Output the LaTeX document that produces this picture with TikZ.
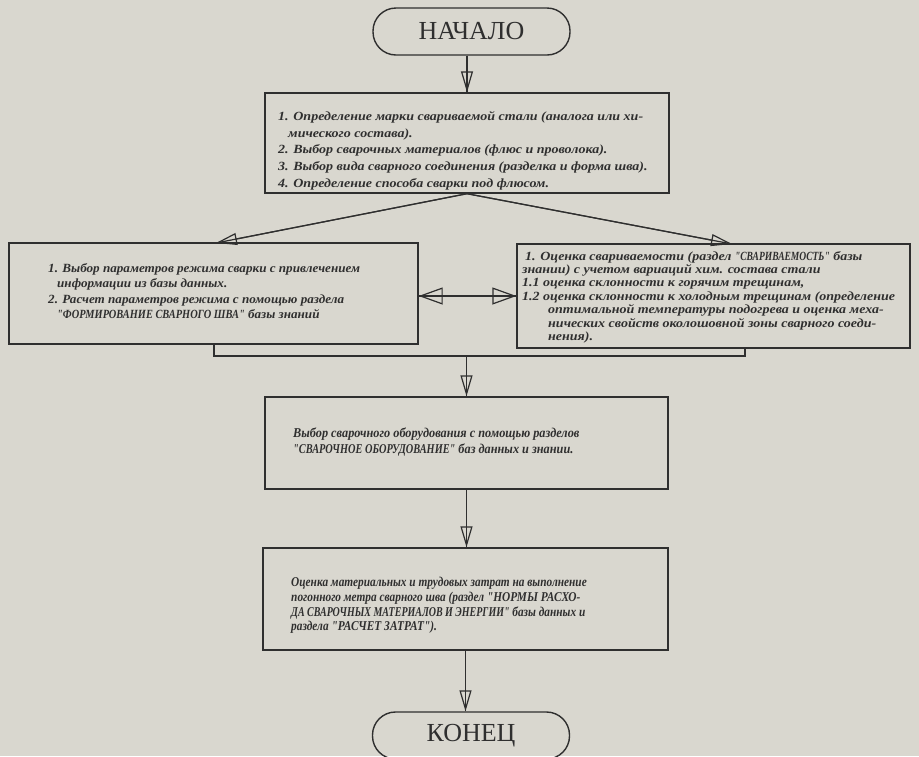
\documentclass[tikz,border=0pt]{standalone}
\usepackage{graphicx}
\usepackage{fontspec}
\setmainfont{Liberation Serif}
\newfontfamily\fA[FakeStretch=1.12]{Liberation Serif}
\newfontfamily\fL[FakeStretch=1.05]{Liberation Serif}
\newfontfamily\fR[FakeStretch=1.12]{Liberation Serif}
\newfontfamily\fC[FakeStretch=0.91]{Liberation Serif}
\newfontfamily\fD[FakeStretch=0.84]{Liberation Serif}
\newcommand\condcaps[2]{\scalebox{#1}[1]{#2}}
\usetikzlibrary{arrows.meta}
\definecolor{paper}{HTML}{D9D7CF}
\definecolor{ink}{HTML}{2F2F2F}
\begin{document}
\begin{tikzpicture}[x=1pt,y=-1pt,
  box/.style={draw=ink, line width=1.4pt, rectangle, inner sep=0pt},
  term/.style={draw=ink, line width=1.4pt, rectangle, rounded corners=23pt,
     minimum width=197pt, minimum height=47pt, inner sep=0pt,
     font=\fontsize{26}{26}\selectfont, text=ink},
  txt/.style={anchor=north west, align=left, inner sep=0pt, text=ink},
  link/.style={draw=ink, line width=1.2pt},
  vtip/.style={link, -{Triangle[open, length=21pt, width=12pt, line width=1.2pt]}},
  htip/.style={link, {Triangle[open, length=24pt, width=17pt, line width=1.2pt]}-{Triangle[open, length=24pt, width=17pt, line width=1.2pt]}}
]
\useasboundingbox[fill=paper] (0,0) rectangle (919,756);

% nodes
\node[term] (start) at (471.5,31.5) {НАЧАЛО};
\node[box, minimum width=404pt, minimum height=100pt] (b1) at (467,143) {};
\node[box, minimum width=409pt, minimum height=101pt] (bl) at (213.5,293.5) {};
\node[box, minimum width=393pt, minimum height=104pt] (br) at (713.5,296) {};
\node[box, minimum width=403pt, minimum height=92pt] (b3) at (466.5,443) {};
\node[box, minimum width=405pt, minimum height=102pt] (b4) at (465.5,599) {};
\node[term] (end) at (471,735.5) {КОНЕЦ};

% texts
\node[txt, font=\fA\fontsize{12.5}{16.8}\selectfont\itshape\bfseries] (t1) at (278,111) {1. Определение марки свариваемой стали (аналога или хи-\\
\hspace*{10pt}мического состава).\\
2. Выбор сварочных материалов (флюс и проволока).\\
3. Выбор вида сварного соединения (разделка и форма шва).\\
4. Определение способа сварки под флюсом.};

\node[txt, font=\fL\fontsize{12.5}{15.5}\selectfont\itshape\bfseries] (tl) at (48,263) {1. Выбор параметров режима сварки с привлечением\\
\hspace*{9pt}информации из базы данных.\\
2. Расчет параметров режима с помощью раздела\\
\hspace*{9pt}\condcaps{0.79}{"ФОРМИРОВАНИЕ СВАРНОГО ШВА"} базы знаний};

\node[txt, font=\fR\fontsize{12.5}{13.4}\selectfont\itshape\bfseries] (tr) at (522,251) {\hspace*{3pt}1. Оценка свариваемости (раздел \condcaps{0.68}{"СВАРИВАЕМОСТЬ"} базы\\
знании) с учетом вариаций хим. состава стали\\
1.1 оценка склонности к горячим трещинам,\\
1.2 оценка склонности к холодным трещинам (определение\\
\hspace*{26pt}оптимальной температуры подогрева и оценка меха-\\
\hspace*{26pt}нических свойств околошовной зоны сварного соеди-\\
\hspace*{26pt}нения).};

\node[txt, font=\fC\fontsize{13.5}{16}\selectfont\itshape\bfseries] (t3) at (293,428) {Выбор сварочного оборудования с помощью разделов\\
\condcaps{0.84}{"СВАРОЧНОЕ ОБОРУДОВАНИЕ"} баз данных и знании.};

\node[txt, font=\fD\fontsize{13.5}{14.8}\selectfont\itshape\bfseries] (t4) at (291,577) {Оценка материальных и трудовых затрат на выполнение\\
погонного метра сварного шва (раздел "НОРМЫ РАСХО-\\
\condcaps{0.88}{ДА СВАРОЧНЫХ МАТЕРИАЛОВ И ЭНЕРГИИ"} базы данных и\\
раздела "РАСЧЕТ ЗАТРАТ").};

% connectors
\coordinate (apex) at (b1.south);
\coordinate (tl1) at (216,243);
\coordinate (tr1) at (732,244);
\draw[link] (start.south -| b1.north) -- (b1.north);
\draw[vtip] (start.south -| b1.north) -- (b1.north);
\draw[link] (apex) -- (tl1);
\draw[vtip] (apex) -- (tl1);
\draw[link] (apex) -- (tr1);
\draw[vtip] (apex) -- (tr1);
\draw[link] (bl.east |- 0,296) -- (br.west |- 0,296);
\draw[htip] (bl.east |- 0,296) -- (br.west |- 0,296);
\coordinate (mL) at (214,356);
\coordinate (mR) at (745,356);
\coordinate (mC) at (466.5,356);
\draw[link] (bl.south -| mL) -- (mL) -- (mR) -- (br.south -| mR);
\draw[link] (mC) -- (b3.north);
\draw[vtip] (mC) -- (b3.north);
\draw[link] (b3.south) -- (b3.south |- b4.north);
\draw[vtip] (b3.south) -- (b3.south |- b4.north);
\draw[link] (b4.south) -- (b4.south |- end.north);
\draw[vtip] (b4.south) -- (b4.south |- end.north);
\end{tikzpicture}
\end{document}
